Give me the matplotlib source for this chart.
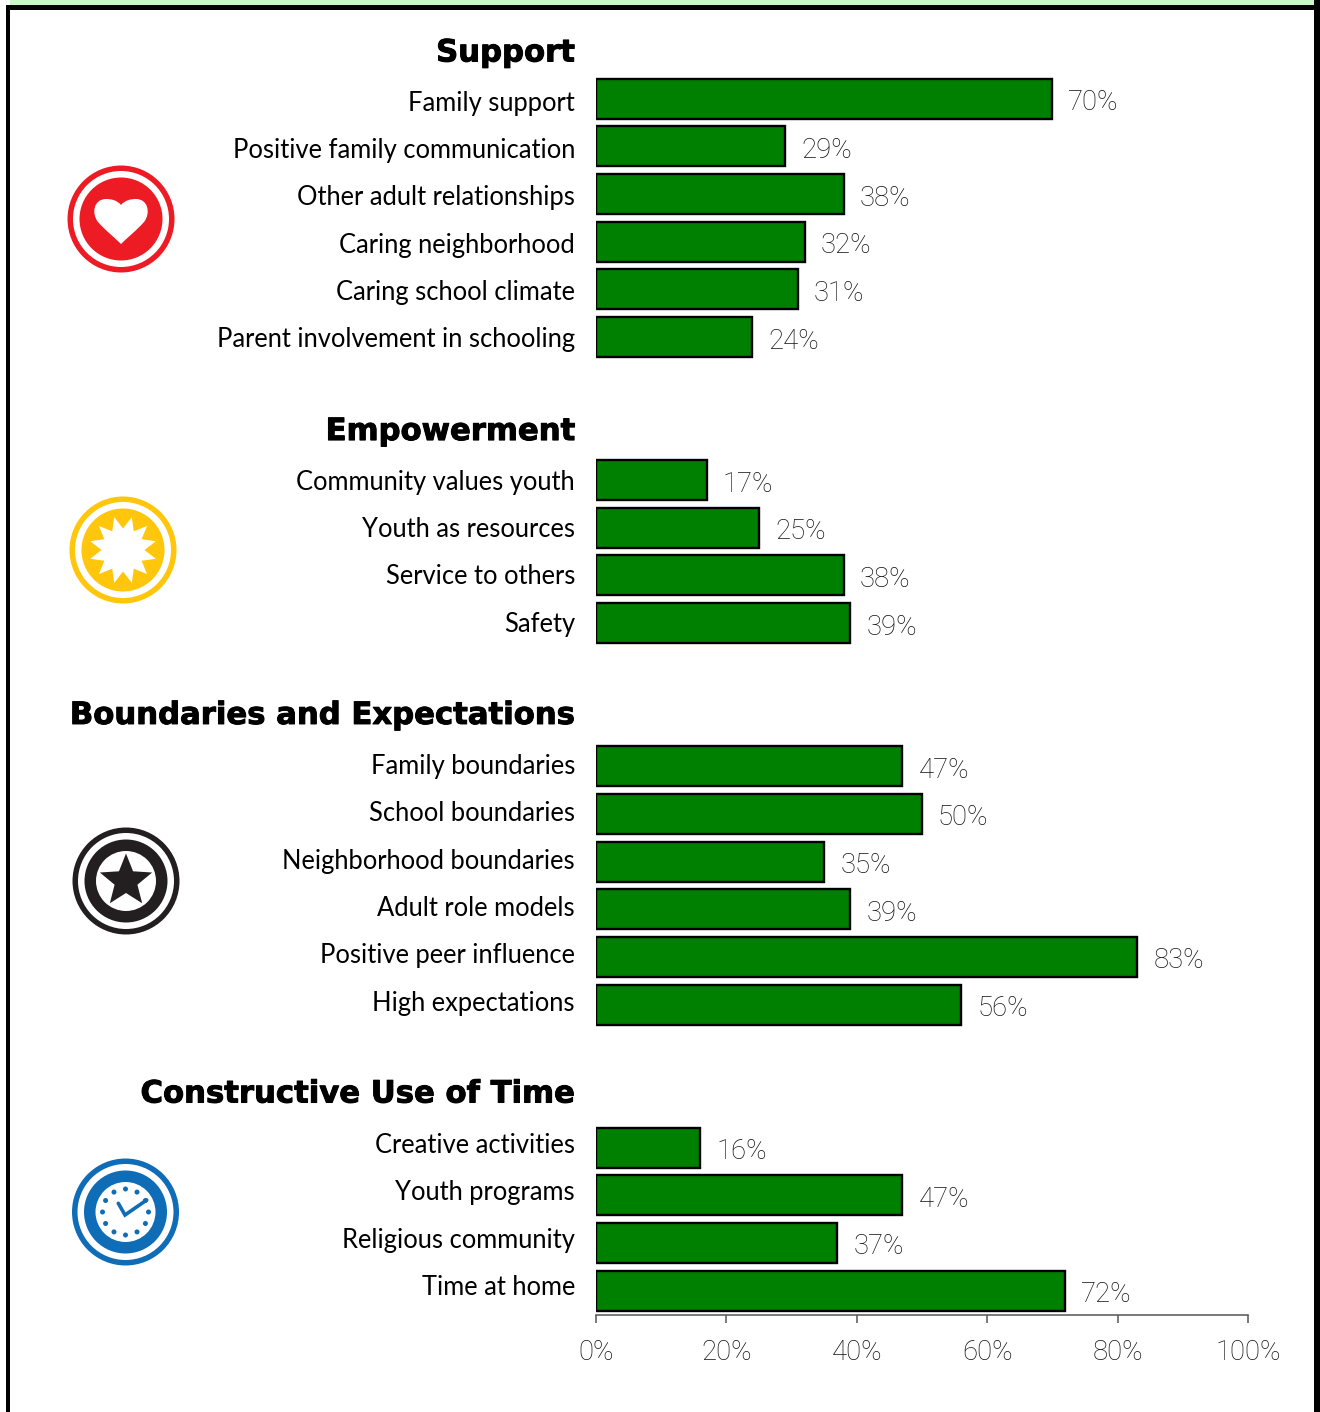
import numpy as np
import matplotlib
matplotlib.use("Agg")
import matplotlib.pyplot as plt
import matplotlib.patheffects as pe
from matplotlib.patches import Circle, PathPatch, Polygon, Rectangle
from matplotlib.path import Path

groups = ["Support", "Empowerment", "Boundaries and Expectations", "Constructive Use of Time"]
support_labels = ["Family support", "Positive family communication", "Other adult relationships",
                  "Caring neighborhood", "Caring school climate", "Parent involvement in schooling"]
support_values = [70, 29, 38, 32, 31, 24]
empower_labels = ["Community values youth", "Youth as resources", "Service to others", "Safety"]
empower_values = [17, 25, 38, 39]
boundary_labels = ["Family boundaries", "School boundaries", "Neighborhood boundaries",
                   "Adult role models", "Positive peer influence", "High expectations"]
boundary_values = [47, 50, 35, 39, 83, 56]
time_labels = ["Creative activities", "Youth programs", "Religious community", "Time at home"]
time_values = [16, 47, 37, 72]
x_ticks = [0, 20, 40, 60, 80, 100]

W, H = 1320, 1412
fig = plt.figure(figsize=(W / 100, H / 100), dpi=100, facecolor="white")
FONT = ["Lato", "DejaVu Sans"]
VALUE_FONT = ["Roboto", "DejaVu Sans"]
HEAD_FONT = ["DejaVu Sans"]
VALUE_COLOR = "#111111"

# Chart axes: 0-100% spans px 596..1248; rows are 47.68 px apart
row_px = 47.68
top_px = 51.0 - 0.5 * row_px
bottom_px = 1314.5
ax = fig.add_axes([596 / W, 1 - bottom_px / H, (1248 - 596) / W, (bottom_px - top_px) / H])
ax.set_xlim(0, 100)
ax.set_ylim((bottom_px - top_px) / row_px - 0.5, -0.5)

GREEN = "#008000"
LABEL_SCALE = 47.38 / 47.68
HEAD_SCALE = 47.32 / 47.68
row = 0
all_groups = [(support_labels, support_values), (empower_labels, empower_values),
              (boundary_labels, boundary_values), (time_labels, time_values)]
label_tf = ax.get_yaxis_transform()
for g, (labels, values) in zip(groups, all_groups):
    ax.annotate(g, xy=(0, row * HEAD_SCALE), xycoords=label_tf, xytext=(-21, 1), textcoords="offset pixels",
                ha="right", va="center_baseline", fontsize=22.1, fontweight="bold",
                family=HEAD_FONT, color="black",
                path_effects=[pe.withStroke(linewidth=0.7, foreground="black")])
    row += 1
    for lab, val in zip(labels, values):
        ax.barh(row, val, height=40 / row_px, color=GREEN, edgecolor="black", linewidth=1.7, zorder=3)
        ax.annotate(f"{val}%", xy=(val, row), xytext=(16, -1), textcoords="offset pixels",
                    ha="left", va="center_baseline", fontsize=19.8, fontweight="light",
                    family=VALUE_FONT, color=VALUE_COLOR)
        label_y = 1.04 + (row - 1) * LABEL_SCALE
        ax.annotate(lab, xy=(0, label_y), xycoords=label_tf, xytext=(-21, 0), textcoords="offset pixels",
                    ha="right", va="center_baseline", fontsize=18.4, family=FONT, color="black")
        row += 1
    row += 1

for s in ["top", "left", "right"]:
    ax.spines[s].set_visible(False)
ax.spines["bottom"].set_color("#555555")
ax.spines["bottom"].set_linewidth(1.1)
ax.set_yticks([])
ax.set_xticks(x_ticks)
ax.set_xticklabels([f"{t}%" for t in x_ticks], fontsize=19.8, fontweight="light", family=VALUE_FONT, color=VALUE_COLOR)
ax.tick_params(axis="x", length=6, width=1.1, color="#555555", pad=12)
ax.patch.set_alpha(0)

# Overlay in pixel coordinates for the frame and icons
ov = fig.add_axes([0, 0, 1, 1], zorder=-1)
ov.set_xlim(0, W)
ov.set_ylim(H, 0)
ov.axis("off")
ov.add_patch(Rectangle((10, 0), 1304, 4.5, fc="#c8f8c8", ec="none"))
ov.add_patch(Rectangle((5.5, 4.5), 1320, 5, fc="black", ec="none"))
ov.add_patch(Rectangle((5.5, 4.5), 4.7, H, fc="black", ec="none"))
ov.add_patch(Rectangle((1314, 0), 6, H, fc="black", ec="none"))


def rings(cx, cy, color, inner=None):
    ov.add_patch(Circle((cx, cy), 53.5, fc=color, ec="none"))
    ov.add_patch(Circle((cx, cy), 48, fc="white", ec="none"))
    ov.add_patch(Circle((cx, cy), 41.5, fc=color, ec="none"))
    if inner:
        ov.add_patch(Circle((cx, cy), inner, fc="white", ec="none"))


# Heart
rings(121, 219, "#ED1C24")
cx, cy = 121, 219
verts = [(0, -14), (4, -19), (10, -20), (15, -20), (27, -20), (30, -6), (23, 3),
         (16, 11), (6, 19), (0, 25), (-6, 19), (-16, 11), (-23, 3), (-30, -6), (-27, -20), (-15, -20),
         (-10, -20), (-4, -19), (0, -14)]
codes = [Path.MOVETO] + [Path.CURVE4] * 18
ov.add_patch(PathPatch(Path([(cx + a, cy + b) for a, b in verts], codes), fc="white", ec="none"))

# Sun
rings(123, 550, "#FFC60B")
ang = np.deg2rad(np.arange(0, 360, 15) + 15)
rad = np.where(np.arange(24) % 2 == 0, 34, 21.5)
ov.add_patch(Polygon(np.c_[123 + rad * np.cos(ang), 550 + rad * np.sin(ang)], fc="white", ec="none"))

# Star
rings(126, 881, "#231F20", inner=30)
ang = np.deg2rad(np.arange(0, 360, 36) - 90)
rad = np.where(np.arange(10) % 2 == 0, 27.5, 12)
ov.add_patch(Polygon(np.c_[126 + rad * np.cos(ang), 881 + rad * np.sin(ang)], fc="#231F20", ec="none"))

# Clock
rings(125.5, 1212, "#0F6CB6", inner=30)
for a in np.deg2rad(np.arange(0, 360, 30)):
    ov.add_patch(Circle((125.5 + 23 * np.cos(a), 1212 + 23 * np.sin(a)), 2.5, fc="#0F6CB6", ec="none"))
ov.plot([118.3, 125, 146.7], [1203.3, 1215, 1200], color="#0F6CB6", lw=2.6, solid_joinstyle="miter",
        solid_capstyle="round")

fig.savefig("out.png", dpi=100, facecolor="white")
